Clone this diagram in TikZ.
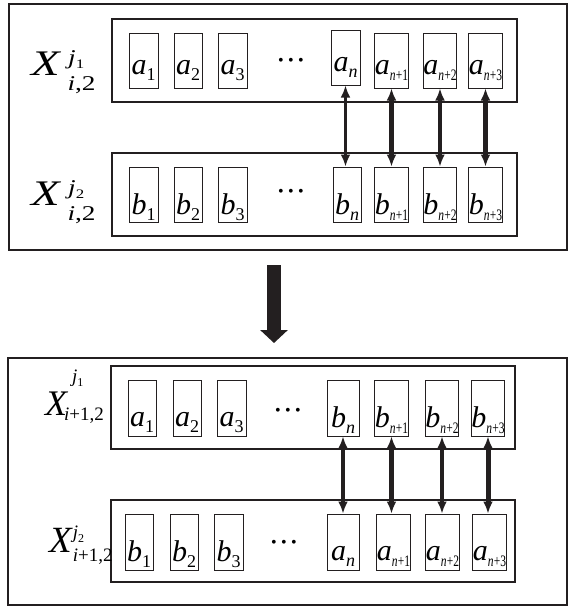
\documentclass[tikz,border=0pt]{standalone}
\usepackage{fontspec}
\setmainfont{Liberation Serif}[ItalicFont={Liberation Serif Italic}]
\usepackage{graphicx}
\usetikzlibrary{arrows.meta,calc}
\definecolor{ink}{RGB}{35,31,32}

% cell label: italic letter with upright/italic subscript
\newcommand{\cv}[2]{{\fontsize{30}{30}\selectfont\itshape #1}\raisebox{-6pt}{\fontsize{18}{18}\selectfont #2}}
% cell label with a condensed n+k subscript
\newcommand{\cvn}[2]{{\fontsize{30}{30}\selectfont\itshape #1}\raisebox{-6pt}{\fontsize{16}{16}\selectfont\scalebox{0.72}[1]{\itshape n\upshape #2}}}
% superscript j_k
\newcommand{\jsup}[2]{{\itshape j}\raisebox{-0.22em}{\fontsize{#2}{#2}\selectfont #1}}
% X with stacked super- and subscripts:
% #1 X size, #2 script size, #3 sup kern, #4 sup raise, #5 sub kern, #6 sub lower, #7 sup, #8 sub
\newcommand{\Xlbl}[8]{{\fontsize{#1}{#1}\selectfont\itshape X}\rlap{\kern#3\raisebox{#4}{\fontsize{#2}{#2}\selectfont #7}}\kern#5\raisebox{-#6}{\fontsize{#2}{#2}\selectfont #8}}

\tikzset{
  panel/.style={draw=ink, line width=1.1pt, inner sep=0pt},
  row/.style={draw=ink, line width=1.1pt, inner sep=0pt},
  cell/.style={draw=ink, line width=1pt, inner sep=0pt, minimum height=55pt, minimum width=#1, text depth=0pt},
  gapA/.style={text height=27pt},
  gapB/.style={text height=39pt},
  gapC/.style={text height=37pt},
  dots/.style={inner sep=0pt, font=\fontsize{16}{16}\selectfont},
  lbl/.style={inner sep=0pt, anchor=base west},
  xarrow/.style={draw=ink, line width=#1, {Latex[length=12pt,width=10pt]}-{Latex[length=12pt,width=10pt]}},
  bigarrow/.style={draw=ink, line width=14pt, -{Triangle[length=13pt,width=27pt]}}
}
\newcommand{\threedots}{\textbullet\hspace{4.4pt}\textbullet\hspace{4.4pt}\textbullet}

\begin{document}
\begin{tikzpicture}[x=1pt,y=-1pt]
\useasboundingbox (0,0) rectangle (568,606);

% ---------- upper panel ----------
\node[panel, minimum width=558pt, minimum height=246pt] (P1) at (288,127) {};
\node[row, minimum width=405pt, minimum height=83pt] (R1) at (314.5,60.5) {};
\node[row, minimum width=405pt, minimum height=83pt] (R2) at (314.5,194.5) {};

\node[lbl] (L1) at (31,75) {\scalebox{1.3}[1]{\Xlbl{36pt}{21pt}{6.5pt}{11pt}{6pt}{15pt}{\jsup{1}{13}}{{\itshape i},2}}};
\node[lbl] (L2) at (31,205) {\scalebox{1.3}[1]{\Xlbl{36pt}{21pt}{6.5pt}{11pt}{6pt}{15pt}{\jsup{2}{13}}{{\itshape i},2}}};

\node[cell=29pt, gapA] (ta1) at (143.5,60.5) {\cv{a}{1}};
\node[cell=28pt, gapA] (ta2) at (188,60.5) {\cv{a}{2}};
\node[cell=29pt, gapA] (ta3) at (232.5,60.5) {\cv{a}{3}};
\node[dots] (td1) at (291,62) {\threedots};
\node[cell=29pt, gapA] (tan) at (345.5,57.5) {\cv{a}{\itshape n}};
\node[cell=31pt, gapA] (tan1) at (391.5,60.5) {\cvn{a}{+1}};
\node[cell=32pt, gapA] (tan2) at (440,60.5) {\cvn{a}{+2}};
\node[cell=33pt, gapA] (tan3) at (485.5,60.5) {\cvn{a}{+3}};

\node[cell=29pt, gapB] (tb1) at (143.5,194.5) {\cv{b}{1}};
\node[cell=28pt, gapB] (tb2) at (188,194.5) {\cv{b}{2}};
\node[cell=29pt, gapB] (tb3) at (232.5,194.5) {\cv{b}{3}};
\node[dots] (td2) at (291,193) {\threedots};
\node[cell=28pt, gapB] (tbn) at (347,194.5) {\cv{b}{\itshape n}};
\node[cell=31pt, gapB] (tbn1) at (391.5,194.5) {\cvn{b}{+1}};
\node[cell=32pt, gapB] (tbn2) at (440,194.5) {\cvn{b}{+2}};
\node[cell=33pt, gapB] (tbn3) at (485.5,194.5) {\cvn{b}{+3}};

\draw[xarrow=3.3pt] (tan.south) -- (tan.south |- tbn.north);
\draw[xarrow=5pt] (tan1.south) -- (tan1.south |- tbn1.north);
\draw[xarrow=4.5pt] (tan2.south) -- (tan2.south |- tbn2.north);
\draw[xarrow=4.5pt] (tan3.south) -- (tan3.south |- tbn3.north);

% ---------- transition ----------
\coordinate (flowstart) at (274,265);
\coordinate (flowend) at (274,343);
\draw[bigarrow] (flowstart) -- (flowend);

% ---------- lower panel ----------
\node[panel, minimum width=559pt, minimum height=247pt] (P2) at (287.5,481.5) {};
\node[row, minimum width=404pt, minimum height=83pt] (R3) at (313,407.5) {};
\node[row, minimum width=404pt, minimum height=82pt] (R4) at (313,541) {};

\node[lbl] (L3) at (45,415) {\Xlbl{36pt}{19pt}{5pt}{33pt}{-3pt}{5pt}{\jsup{1}{12}}{{\itshape i}+1,2}};
\node[lbl] (L4) at (49,552) {\Xlbl{37pt}{19pt}{1pt}{14pt}{1pt}{9pt}{\jsup{2}{12}}{{\itshape i}+1,2}};

\node[cell=28pt, gapC, minimum height=56pt] (ba1) at (142,408) {\cv{a}{1}};
\node[cell=28pt, gapC, minimum height=56pt] (ba2) at (187,408) {\cv{a}{2}};
\node[cell=29pt, gapC, minimum height=56pt] (ba3) at (231.5,408) {\cv{a}{3}};
\node[dots] (bd1) at (288,412) {\threedots};
\node[cell=32pt, gapB, minimum height=56pt] (bbn) at (343,408) {\cv{b}{\itshape n}};
\node[cell=33pt, gapB, minimum height=56pt] (bbn1) at (391.5,408) {\cvn{b}{+1}};
\node[cell=32pt, gapB, minimum height=56pt] (bbn2) at (442,408) {\cvn{b}{+2}};
\node[cell=32pt, gapB, minimum height=56pt] (bbn3) at (488,408) {\cvn{b}{+3}};

\node[cell=28pt, gapB, minimum height=56pt] (bb1) at (139,542) {\cv{b}{1}};
\node[cell=28pt, gapB, minimum height=56pt] (bb2) at (184,542) {\cv{b}{2}};
\node[cell=29pt, gapB, minimum height=56pt] (bb3) at (228.5,542) {\cv{b}{3}};
\node[dots] (bd2) at (284,544) {\threedots};
\node[cell=32pt, gapC, minimum height=56pt] (ban) at (343,542) {\cv{a}{\itshape n}};
\node[cell=33pt, gapC, minimum height=56pt] (ban1) at (393.5,542) {\cvn{a}{+1}};
\node[cell=31pt, gapC, minimum height=56pt] (ban2) at (442.5,542) {\cvn{a}{+2}};
\node[cell=33pt, gapC, minimum height=56pt] (ban3) at (489.5,542) {\cvn{a}{+3}};

\draw[xarrow=3.3pt] (bbn.south) -- (bbn.south |- ban.north);
\draw[xarrow=5pt] (bbn1.south) -- (bbn1.south |- ban1.north);
\draw[xarrow=4.5pt] (bbn2.south) -- (bbn2.south |- ban2.north);
\draw[xarrow=5pt] (bbn3.south) -- (bbn3.south |- ban3.north);
\end{tikzpicture}
\end{document}
